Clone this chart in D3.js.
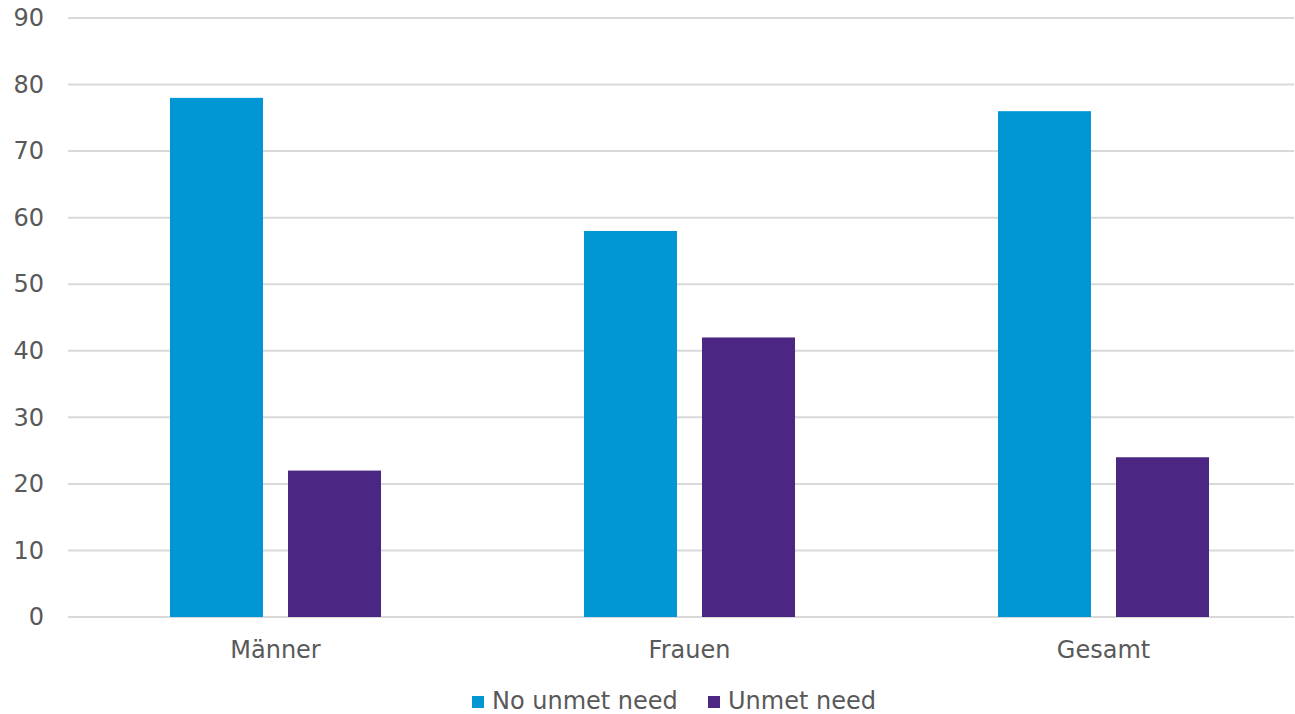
<!DOCTYPE html>
<html>
<head>
<meta charset="utf-8">
<script src="https://cdn.jsdelivr.net/npm/d3@7"></script>
<style>
  html, body { margin: 0; padding: 0; background: #fff; }
  svg { display: block; }
  text { font-family: "DejaVu Sans", Verdana, sans-serif; fill: #595959; }
</style>
</head>
<body>
<svg id="chart" width="1295" height="714"></svg>
<script>
const categories = ["Männer", "Frauen", "Gesamt"];
const seriesNames = ["No unmet need", "Unmet need"];
const noUnmetNeed = [78, 58, 76];
const unmetNeed = [22, 42, 24];
const yTicks = [0, 10, 20, 30, 40, 50, 60, 70, 80, 90];
const colors = ["#0097d4", "#4b2682"];

const svg = d3.select("#chart");
const plotLeft = 68.5, plotRight = 1310.5, gridRight = 1294;
const plotTop = 18, plotBottom = 617;

const x0 = d3.scaleBand()
  .domain(categories)
  .range([plotLeft, plotRight])
  .paddingInner(0.4903)
  .paddingOuter(0.4903 / 2);

const x1 = d3.scaleBand()
  .domain(seriesNames)
  .range([0, x0.bandwidth()])
  .paddingInner(0.2119)
  .paddingOuter(0);

const y = d3.scaleLinear().domain([0, 90]).range([plotBottom, plotTop]);
const color = d3.scaleOrdinal().domain(seriesNames).range(colors);

// Horizontal gridlines
svg.append("g")
  .selectAll("line")
  .data(yTicks)
  .join("line")
  .attr("x1", plotLeft - 0.5)
  .attr("x2", gridRight)
  .attr("y1", d => y(d))
  .attr("y2", d => y(d))
  .attr("stroke", "#d9d9d9")
  .attr("stroke-width", 2);

// Y-axis tick labels
const yAxis = d3.axisLeft(y).tickValues(yTicks).tickSize(0).tickPadding(0);
const yg = svg.append("g").attr("transform", "translate(44,0)").call(yAxis);
yg.select(".domain").remove();
yg.selectAll("text")
  .attr("font-size", 24)
  .attr("fill", "#595959")
  .style("font-family", '"DejaVu Sans", Verdana, sans-serif');

// Bars
const rows = categories.map((c, i) => ({
  category: c,
  values: [
    { key: seriesNames[0], value: noUnmetNeed[i] },
    { key: seriesNames[1], value: unmetNeed[i] }
  ]
}));

svg.append("g")
  .selectAll("g")
  .data(rows)
  .join("g")
  .attr("transform", d => `translate(${x0(d.category)},0)`)
  .selectAll("rect")
  .data(d => d.values)
  .join("rect")
  .attr("x", d => x1(d.key))
  .attr("width", x1.bandwidth())
  .attr("y", d => y(d.value))
  .attr("height", d => y(0) - y(d.value))
  .attr("fill", d => color(d.key));

// Category labels
const xAxis = d3.axisBottom(x0).tickSize(0).tickPadding(0);
const xg = svg.append("g").attr("transform", `translate(0,${plotBottom + 24})`).call(xAxis);
xg.select(".domain").remove();
xg.selectAll("text")
  .attr("font-size", 24)
  .attr("fill", "#595959")
  .attr("dy", "0.71em")
  .attr("y", 0)
  .style("font-family", '"DejaVu Sans", Verdana, sans-serif');

// Legend
const legendItems = [
  { key: seriesNames[0], sx: 472, tx: 492 },
  { key: seriesNames[1], sx: 708, tx: 728 }
];
const legend = svg.append("g");
legend.selectAll("rect")
  .data(legendItems)
  .join("rect")
  .attr("x", d => d.sx)
  .attr("y", 696)
  .attr("width", 12)
  .attr("height", 12)
  .attr("fill", d => color(d.key));
legend.selectAll("text")
  .data(legendItems)
  .join("text")
  .attr("x", d => d.tx)
  .attr("y", 709)
  .attr("font-size", 24)
  .text(d => d.key);
</script>
</body>
</html>
